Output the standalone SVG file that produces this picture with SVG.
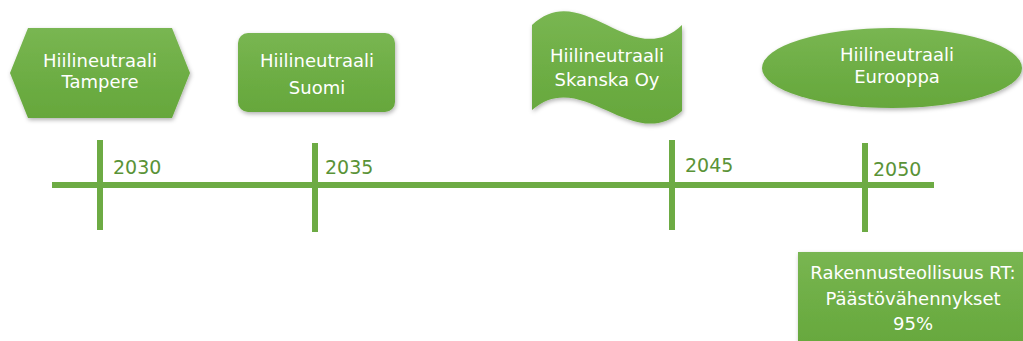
<svg xmlns="http://www.w3.org/2000/svg" width="1023" height="341" viewBox="0 0 1023 341">
<defs>
<linearGradient id="g" x1="0" y1="0" x2="0" y2="1">
<stop offset="0" stop-color="#79b652"/>
<stop offset="0.5" stop-color="#6eae45"/>
<stop offset="1" stop-color="#66a73c"/>
</linearGradient>
<filter id="sh" x="-10%" y="-10%" width="120%" height="130%">
<feDropShadow dx="1" dy="2" stdDeviation="2" flood-color="#000" flood-opacity="0.3"/>
</filter>
<style>
.shape{fill:url(#g);filter:url(#sh);}
.lbl{font-family:"DejaVu Sans",sans-serif;font-size:18px;fill:#ffffff;text-anchor:middle;}
.yr{font-family:"DejaVu Sans",sans-serif;font-size:19px;fill:#5a9337;}
.ln{stroke:#6dab44;stroke-width:6;fill:none;}
</style>
</defs>
<rect width="1023" height="341" fill="#ffffff"/>
<g id="timeline">
<line class="ln" x1="52" y1="185" x2="934" y2="185"/>
<line class="ln" x1="100" y1="140" x2="100" y2="230"/>
<line class="ln" x1="315" y1="143" x2="315" y2="232"/>
<line class="ln" x1="672" y1="140" x2="672" y2="230"/>
<line class="ln" x1="865" y1="143" x2="865" y2="232"/>
<text class="yr" x="113" y="174">2030</text>
<text class="yr" x="325" y="174">2035</text>
<text class="yr" x="685" y="172">2045</text>
<text class="yr" x="873" y="176">2050</text>
</g>
<g id="tampere">
<polygon class="shape" points="10,73 28,28 172,28 190,73 172,118 28,118"/>
<text class="lbl" x="100" y="67">Hiilineutraali</text>
<text class="lbl" x="100" y="88">Tampere</text>
</g>
<g id="suomi">
<rect class="shape" x="238" y="33" width="157" height="79" rx="10"/>
<text class="lbl" x="317" y="67">Hiilineutraali</text>
<text class="lbl" x="317" y="94">Suomi</text>
</g>
<g id="skanska">
<path class="shape" d="M532,25 C582,-23 632,73 682,25 L682,111 C632,155 582,66 532,110 Z"/>
<text class="lbl" x="607" y="62">Hiilineutraali</text>
<text class="lbl" x="607" y="86">Skanska Oy</text>
</g>
<g id="eurooppa">
<ellipse class="shape" cx="892" cy="68" rx="130" ry="40"/>
<text class="lbl" x="897" y="61">Hiilineutraali</text>
<text class="lbl" x="897" y="83">Eurooppa</text>
</g>
<g id="rt">
<rect class="shape" x="798" y="252" width="240" height="100"/>
<text class="lbl" x="913" y="279">Rakennusteollisuus RT:</text>
<text class="lbl" x="913" y="305">Päästövähennykset</text>
<text class="lbl" x="913" y="330">95%</text>
</g>
</svg>
